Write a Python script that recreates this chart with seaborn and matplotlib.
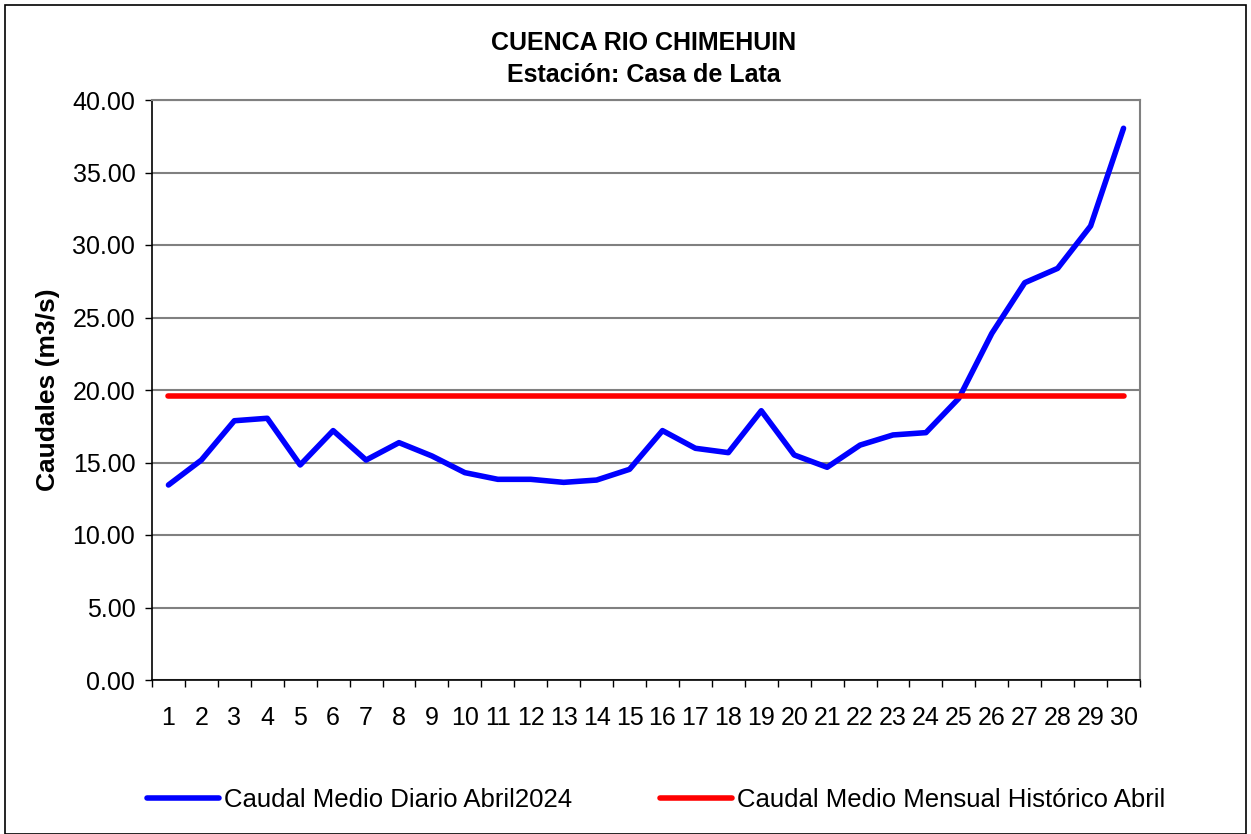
import matplotlib
matplotlib.use("Agg")
import matplotlib.pyplot as plt
from matplotlib.patches import Rectangle
from matplotlib.ticker import MultipleLocator, FixedLocator, FormatStrFormatter
import seaborn as sns
import pandas as pd
import numpy as np

# data
dias = list(range(1, 31))
caudal_diario = [13.45, 15.17, 17.88, 18.05, 14.83, 17.20, 15.17, 16.37, 15.45, 14.30,
                 13.84, 13.84, 13.63, 13.79, 14.53, 17.20, 15.98, 15.68, 18.57, 15.52,
                 14.67, 16.20, 16.90, 17.06, 19.43, 23.90, 27.40, 28.39, 31.31, 38.05]
caudal_historico = [19.57] * 30

titulo = "CUENCA RIO CHIMEHUIN\nEstación: Casa de Lata"
ylabel = "Caudales (m3/s)"
serie_diaria = "Caudal Medio Diario Abril2024"
serie_historica = "Caudal Medio Mensual Histórico Abril"

sns.set_theme(style="white")
plt.rcParams['font.family'] = ['Liberation Sans', 'DejaVu Sans']
plt.rcParams['text.color'] = 'black'
plt.rcParams['xtick.color'] = 'black'
plt.rcParams['ytick.color'] = 'black'
plt.rcParams['axes.labelcolor'] = 'black'

df = pd.DataFrame({"dia": dias, "diario": caudal_diario, "historico": caudal_historico})

fig = plt.figure(figsize=(12.51, 8.34), dpi=100)
ax = fig.add_axes([152 / 1251, 1 - 680 / 834, (1140 - 152) / 1251, (680 - 100) / 834])

sns.lineplot(data=df, x="dia", y="diario", ax=ax, color="#0000ff", linewidth=4,
             label=serie_diaria, solid_capstyle="round")
sns.lineplot(data=df, x="dia", y="historico", ax=ax, color="#ff0000", linewidth=4,
             label=serie_historica, solid_capstyle="round")

ax.set_xlim(0.5, 30.5)
ax.set_ylim(0, 40)
ax.yaxis.set_major_locator(MultipleLocator(5))
ax.yaxis.set_major_formatter(FormatStrFormatter("%.2f"))
ax.set_xticks(dias)
ax.set_xticklabels([str(d) for d in dias])
ax.xaxis.set_minor_locator(FixedLocator(np.arange(0.5, 31, 1)))
ax.tick_params(axis="x", which="major", length=0, pad=19, labelsize=18)
ax.tick_params(axis="x", which="minor", length=5, width=1, color="black", direction="out", bottom=True)
ax.tick_params(axis="y", which="major", length=5, width=1, color="black", direction="out",
               left=True, labelsize=18, pad=7)
ax.grid(axis="y", color="#808080", linewidth=1.5)
ax.set_axisbelow(True)

for s in ["top", "right"]:
    ax.spines[s].set_color("#808080")
    ax.spines[s].set_linewidth(1.5)
ax.spines["left"].set_color("black")
ax.spines["bottom"].set_color("black")
ax.spines["left"].set_linewidth(1.2)
ax.spines["bottom"].set_linewidth(1.2)

ax.set_xlabel("")
ax.set_ylabel(ylabel, fontsize=19, fontweight="bold", labelpad=9)

fig.text(644 / 1251, 1 - 59 / 834, titulo, ha="center", va="center", fontsize=18,
         fontweight="bold", linespacing=1.45)

handles, labels = ax.get_legend_handles_labels()
ax.get_legend().remove()
fig.legend(handles, labels, loc="center", bbox_to_anchor=(656 / 1251, 1 - 800 / 834), ncol=2,
           frameon=False, fontsize=18.5, handlelength=2.8, columnspacing=3.4, handletextpad=0.2)

fig.patches.append(Rectangle((5 / 1251, 0), 1241 / 1251, 1 - 5 / 834, transform=fig.transFigure,
                             fill=False, edgecolor="black", linewidth=1.2))

fig.savefig("out.png", dpi=100)
